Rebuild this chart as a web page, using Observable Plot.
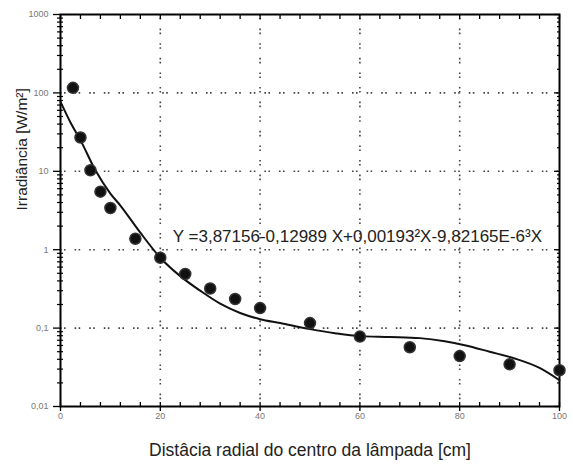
<!DOCTYPE html>
<html><head><meta charset="utf-8">
<script src="https://cdn.jsdelivr.net/npm/d3@7"></script>
<script src="https://cdn.jsdelivr.net/npm/@observablehq/plot@0.6"></script>
<style>body{margin:0;background:#fff;font-family:"Liberation Sans",Arial,sans-serif}</style>
</head><body><div id="chart"></div>
<script>
// measured points
const distX = [2.5, 4, 6, 8, 10, 15, 20, 25, 30, 35, 40, 50, 60, 70, 80, 90, 100];
const irrY  = [116, 27, 10.3, 5.5, 3.4, 1.38, 0.79, 0.49, 0.32, 0.235, 0.18, 0.116, 0.078, 0.057, 0.044, 0.0345, 0.029];
// fitted curve
const fitX = [0, 2, 4, 7, 10, 12, 16, 20, 24, 28, 32, 36, 40, 44, 50, 55, 60, 66, 72, 77, 81, 86, 91, 96, 100];
const fitY = [77, 42, 25, 10.3, 5.2, 3.66, 1.65, 0.79, 0.46, 0.30, 0.205, 0.156, 0.13, 0.116, 0.097, 0.086, 0.079, 0.077, 0.0745, 0.068, 0.0605, 0.05, 0.041, 0.031, 0.0216];
const xTicks = [0, 20, 40, 60, 80, 100];
const xMinor = d3.range(0, 101, 4);
const yTicks = [0.01, 0.1, 1, 10, 100, 1000];
const yMinor = d3.range(-2, 3).flatMap(e => d3.range(2, 10).map(k => k * Math.pow(10, e)));
const xGrid = [20, 40, 60, 80];
const yGrid = [0.1, 1, 10, 100];
const equation = "Y =3,87156-0,12989 X+0,00193\u00B2X-9,82165E-6\u00B3X";
const eqPos = [{x: 22.5, y: 1.47}];
const xLabel = "Distâcia radial do centro da lâmpada [cm]";
const yLabel = "Irradiância [W/m²]";

const fmt = v => String(v).replace(".", ",");
const pts = distX.map((x, i) => ({x, y: irrY[i]}));
const fit = fitX.map((x, i) => ({x, y: fitY[i]}));

const chart = Plot.plot({
  width: 573, height: 471,
  marginTop: 14, marginRight: 14, marginBottom: 65, marginLeft: 60,
  style: {background: "#fff", fontFamily: "Liberation Sans, Arial, sans-serif"},
  x: {domain: [0, 100]},
  y: {type: "log", domain: [0.01, 1000]},
  marks: [
    Plot.ruleX(xGrid, {x: d => d, stroke: "#444", strokeWidth: 1.6, strokeDasharray: "1.6,2.4,1.6,9"}),
    Plot.ruleY(yGrid, {y: d => d, stroke: "#444", strokeWidth: 1.6, strokeDasharray: "1.6,2.4,1.6,9"}),
    // bottom axis
    Plot.axisX({ticks: xMinor, tickSize: -4, text: null, strokeWidth: 1.3, label: null}),
    Plot.axisX({ticks: xTicks, tickSize: 5, text: null, strokeWidth: 1.3, label: null}),
    Plot.axisX({ticks: xTicks, tickSize: 0, tickPadding: 6, tickFormat: fmt, fontSize: 9, color: "#777", label: null}),
    // top axis
    Plot.axisX({anchor: "top", ticks: xMinor, tickSize: -4, text: null, strokeWidth: 1.3, label: null}),
    // left axis
    Plot.axisY({ticks: yMinor, tickSize: 3, text: null, strokeWidth: 1.2, label: null}),
    Plot.axisY({ticks: yMinor, tickSize: -3, text: null, strokeWidth: 1.2, label: null}),
    Plot.axisY({ticks: yTicks, tickSize: 7, text: null, strokeWidth: 1.3, label: null}),
    Plot.axisY({ticks: yTicks, tickSize: 0, tickPadding: 12, tickFormat: fmt, fontSize: 9, color: "#777", label: null}),
    // right axis
    Plot.axisY({anchor: "right", ticks: yMinor, tickSize: -3, text: null, strokeWidth: 1.2, label: null}),
    Plot.axisY({anchor: "right", ticks: yTicks, tickSize: -6, text: null, strokeWidth: 1.3, label: null}),
    Plot.frame({stroke: "#000", strokeWidth: 2}),
    Plot.line(fit, {x: "x", y: "y", curve: "monotone-x", stroke: "#111", strokeWidth: 2}),
    Plot.dot(pts, {x: "x", y: "y", r: 5.5, fill: "#111", stroke: "#333"}),
    Plot.text(eqPos, {x: "x", y: "y", text: () => equation, textAnchor: "start", fontSize: 17, fill: "#222"}),
    Plot.text([xLabel], {frameAnchor: "bottom", dy: 49, text: d => d, fontSize: 17.5, fill: "#222"}),
    Plot.text([yLabel], {frameAnchor: "left", dx: -38, rotate: -90, text: d => d, fontSize: 15.5, fill: "#222"})
  ]
});
document.getElementById("chart").appendChild(chart);
</script>
</body></html>
